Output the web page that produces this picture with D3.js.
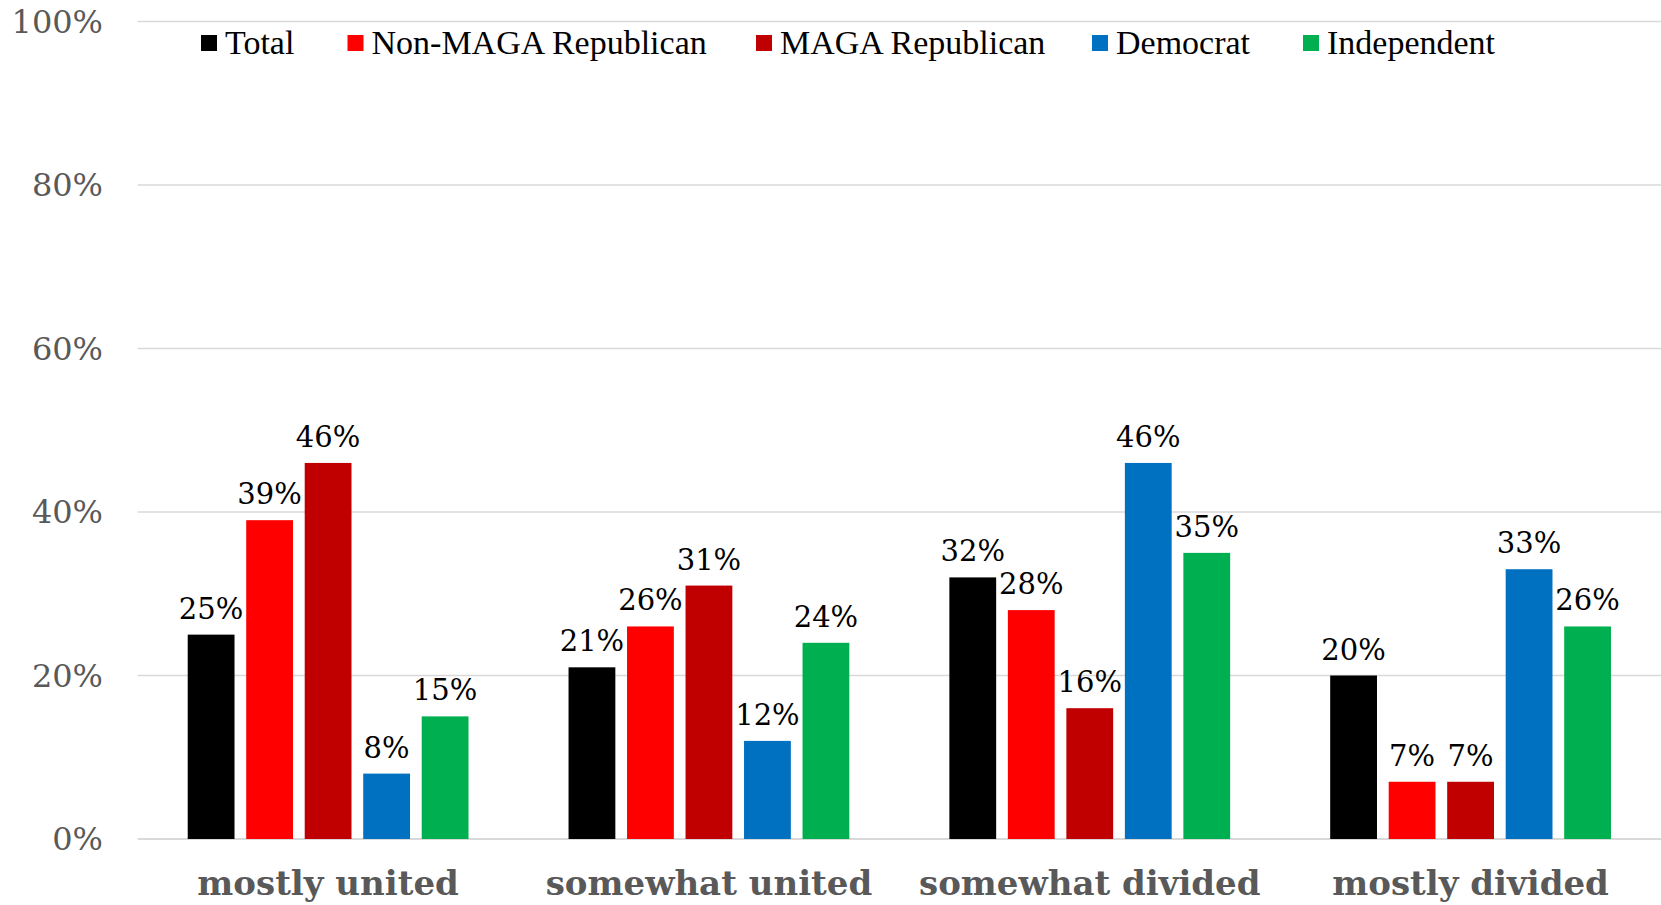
<!DOCTYPE html>
<html><head><meta charset="utf-8">
<script src="https://cdn.jsdelivr.net/npm/d3@7"></script>
<style>body{margin:0;background:#fff}svg{display:block}</style>
</head><body>
<svg id="chart" width="1661" height="905"></svg>
<script>
const categories = ["mostly united", "somewhat united", "somewhat divided", "mostly divided"];
const seriesNames = ["Total", "Non-MAGA Republican", "MAGA Republican", "Democrat", "Independent"];
const seriesColors = ["#000000", "#FF0000", "#C00000", "#0070C0", "#00B050"];
const totalVals = [25, 21, 32, 20];
const nonMagaVals = [39, 26, 28, 7];
const magaVals = [46, 31, 16, 7];
const demVals = [8, 12, 46, 33];
const indVals = [15, 24, 35, 26];
const yTicks = [0, 20, 40, 60, 80, 100];

const series = [totalVals, nonMagaVals, magaVals, demVals, indVals];

const svg = d3.select("#chart");
const plotLeft = 137.7, plotRight = 1661, plotTop = 21.5, plotBottom = 839;

const y = d3.scaleLinear().domain([0, 100]).range([plotBottom, plotTop]);
const x0 = d3.scaleBand().domain(categories).range([plotLeft, plotRight]).paddingInner(0).paddingOuter(0);
const x1 = d3.scaleBand().domain(d3.range(seriesNames.length)).range([0, x0.bandwidth()])
  .paddingInner(0.2).paddingOuter(0.855);

// gridlines
svg.append("g").selectAll("line").data(yTicks).join("line")
  .attr("x1", plotLeft).attr("x2", plotRight)
  .attr("y1", d => y(d)).attr("y2", d => y(d))
  .attr("stroke", "#D9D9D9").attr("stroke-width", d => d === 0 ? 2 : 1.5);

// y tick labels
svg.append("g").selectAll("text").data(yTicks).join("text")
  .attr("x", 103).attr("y", d => y(d) + 11)
  .attr("text-anchor", "end")
  .attr("font-family", "DejaVu Serif")
  .attr("font-size", 32)
  .attr("fill", "#595959")
  .text(d => d + "%");

// bars
const groups = svg.append("g").selectAll("g").data(categories).join("g")
  .attr("transform", c => `translate(${x0(c)},0)`);

groups.selectAll("rect").data((c, ci) => series.map((s, si) => ({si, v: s[ci]}))).join("rect")
  .attr("x", d => x1(d.si))
  .attr("width", x1.bandwidth())
  .attr("y", d => y(d.v))
  .attr("height", d => y(0) - y(d.v))
  .attr("fill", d => seriesColors[d.si]);

groups.selectAll("text").data((c, ci) => series.map((s, si) => ({si, v: s[ci]}))).join("text")
  .attr("x", d => x1(d.si) + x1.bandwidth() / 2)
  .attr("y", d => y(d.v) - 16)
  .attr("text-anchor", "middle")
  .attr("font-family", "DejaVu Serif")
  .attr("font-size", 29)
  .attr("fill", "#000")
  .text(d => d.v + "%");

// category labels
svg.append("g").selectAll("text").data(categories).join("text")
  .attr("x", c => x0(c) + x0.bandwidth() / 2)
  .attr("y", 895)
  .attr("text-anchor", "middle")
  .attr("font-family", "DejaVu Serif")
  .attr("font-weight", "bold")
  .attr("font-size", 34)
  .attr("fill", "#595959")
  .text(c => c);

// legend
const legendX = [201, 347.5, 756, 1092, 1303];
const leg = svg.append("g").selectAll("g").data(seriesNames).join("g")
  .attr("transform", (d, i) => `translate(${legendX[i]},0)`);
leg.append("rect").attr("x", 0).attr("y", 35).attr("width", 16).attr("height", 16)
  .attr("fill", (d, i) => seriesColors[i]);
leg.append("text").attr("x", 24).attr("y", 54)
  .attr("font-family", "Liberation Serif")
  .attr("font-size", 34)
  .attr("fill", "#000")
  .text(d => d);
</script>
</body></html>
